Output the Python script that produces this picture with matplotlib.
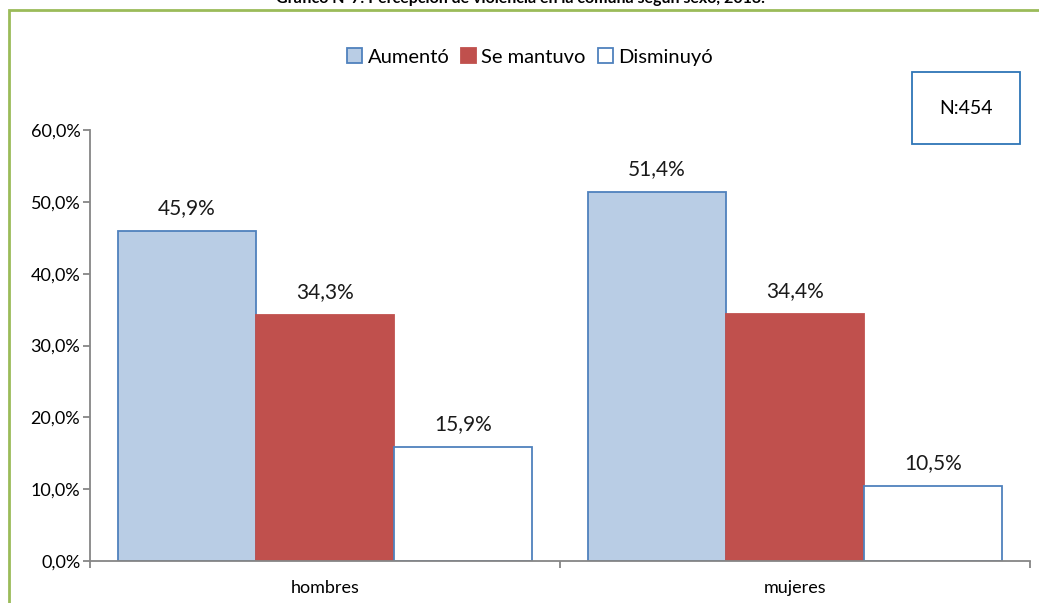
import matplotlib.pyplot as plt
import numpy as np
from matplotlib.patches import Rectangle

plt.rcParams['font.family'] = ['Lato', 'DejaVu Sans']

categories = ['hombres', 'mujeres']
series = ['Aumentó', 'Se mantuvo', 'Disminuyó']
aumento = [45.9, 51.4]
se_mantuvo = [34.3, 34.4]
disminuyo = [15.9, 10.5]
yticks = [0, 10, 20, 30, 40, 50, 60]

faces = ['#B9CDE5', '#C0504D', 'white']
edges = ['#4F81BD', '#C0504D', '#4F81BD']

fig = plt.figure(figsize=(10.39, 6.03), dpi=100)
ax = fig.add_axes([90/1039, 42/603, 940/1039, 431/603])

x = np.arange(len(categories)) + 0.5
w = 0.2936
for i, (name, vals) in enumerate(zip(series, [aumento, se_mantuvo, disminuyo])):
    pos = x + (i - 1) * w
    ax.bar(pos, vals, w, color=faces[i], edgecolor=edges[i], linewidth=1.3, label=name)
    for p, v in zip(pos, vals):
        ax.text(p, v + 1.8, '{:.1f}%'.format(v).replace('.', ','),
                ha='center', va='bottom', fontsize=15, color='#1a1a1a')

ax.set_xlim(0, 2)
ax.set_ylim(0, 60)
ax.set_yticks(yticks)
ax.set_yticklabels(['{:.1f}%'.format(t).replace('.', ',') for t in yticks], fontsize=13)
ax.set_xticks([0, 1, 2])
ax.set_xticklabels([])
ax.set_xticks(x, minor=True)
ax.set_xticklabels(categories, minor=True, fontsize=13)
ax.tick_params(axis='x', which='minor', length=0, pad=14)
ax.tick_params(axis='x', which='major', length=5, color='#868686', width=1.3)
ax.tick_params(axis='y', length=5, color='#868686', width=1.3, pad=2)
for s in ['top', 'right']:
    ax.spines[s].set_visible(False)
for s in ['left', 'bottom']:
    ax.spines[s].set_color('#868686')
    ax.spines[s].set_linewidth(1.3)

fig.legend(loc='center', bbox_to_anchor=(530/1039, 1 - 57/603), ncol=3, frameon=False,
           fontsize=14.5, handlelength=0.75, handleheight=0.75, handletextpad=0.25,
           columnspacing=0.6)

# N box
fig.text(966/1039, 1 - 108/603, 'N:454', ha='center', va='center', fontsize=14,
         bbox=dict(boxstyle='square,pad=1.4', facecolor='white', edgecolor='#2E75B6', linewidth=1.3))

# chart border
fig.patches.append(Rectangle((9/1039, -0.05), 1.1, 1 - 10/603 + 0.05, transform=fig.transFigure,
                             fill=False, edgecolor='#9BBB59', linewidth=2))

fig.text(520/1039, 1 - 3/603, 'Gráfico N°7: Percepción de violencia en la comuna según sexo, 2013.',
         ha='center', va='baseline', fontsize=11.5, fontweight='bold')

fig.savefig('out.png', dpi=100)
